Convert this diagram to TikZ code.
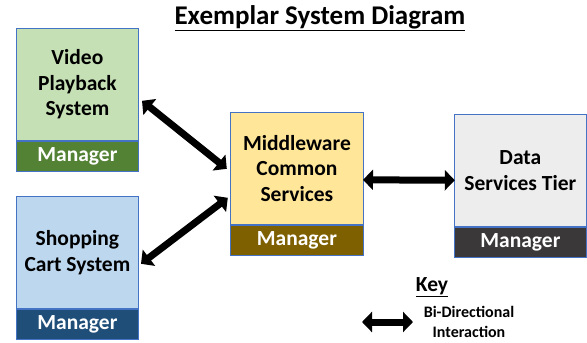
\documentclass[tikz,border=0pt]{standalone}
\usepackage{fontspec}
\setmainfont{Carlito}
\usetikzlibrary{arrows.meta,positioning,fit,calc}
\definecolor{vidbody}{HTML}{C5E0B4}
\definecolor{vidman}{HTML}{548235}
\definecolor{shopbody}{HTML}{BDD7EE}
\definecolor{shopman}{HTML}{1F4E79}
\definecolor{mwbody}{HTML}{FFE699}
\definecolor{mwman}{HTML}{7F6000}
\definecolor{databody}{HTML}{EDEDED}
\definecolor{dataman}{HTML}{3A3838}
\definecolor{edgeblue}{HTML}{4472C4}
\tikzset{
  body/.style={draw=edgeblue, line width=0.8pt, minimum width=122pt, minimum height=112pt, inner sep=0pt, anchor=north west},
  manband/.style={draw=edgeblue, line width=0.8pt, minimum width=122pt, minimum height=30pt, inner sep=0pt, anchor=north, text=white, font=\bfseries\fontsize{21.5}{25}\selectfont},
  boxtext/.style={align=center, font=\bfseries\fontsize{21.5}{25.5}\selectfont},
  biarrow/.style={line width=7pt, {Triangle[length=10pt,width=20pt]}-{Triangle[length=10pt,width=20pt]}}
}
\begin{document}
\begin{tikzpicture}[x=1pt,y=-1pt]
\useasboundingbox (0,0) rectangle (587,343);
\node[font=\bfseries\fontsize{27}{32}\selectfont] (title) at (320,18) {\underline{Exemplar System Diagram}};

% Video
\node[body, fill=vidbody, boxtext] (vidb) at (16,28) {Video\\Playback\\System};
\node[manband, fill=vidman] (vidm) at (vidb.south) {Manager};
\node[fit=(vidb)(vidm), inner sep=0pt] (vid) {};

% Shopping
\node[body, fill=shopbody, boxtext] (shopb) at (16,196) {Shopping\\Cart System};
\node[manband, fill=shopman] (shopm) at (shopb.south) {Manager};
\node[fit=(shopb)(shopm), inner sep=0pt] (shop) {};

% Middleware
\node[body, fill=mwbody, boxtext, minimum width=133pt] (mwb) at (230,112) {Middleware\\Common\\Services};
\node[manband, fill=mwman, minimum width=133pt] (mwm) at (mwb.south) {Manager};
\node[fit=(mwb)(mwm), inner sep=0pt] (mw) {};

% Data
\node[body, fill=databody, boxtext, minimum width=132pt] (datab) at (454,114) {Data\\Services Tier};
\node[manband, fill=dataman, minimum width=132pt] (datam) at (datab.south) {Manager};
\node[fit=(datab)(datam), inner sep=0pt] (data) {};

% Arrows
\coordinate (mwin1) at ($(mw.west)+(-3,-15)$);
\coordinate (mwin2) at ($(mw.west)+(-2,14)$);
\draw[biarrow] ($(vid.east)+(3,1)$) -- (mwin1);
\draw[biarrow] ($(shop.east)+(2,-4)$) -- (mwin2);
\draw[biarrow] ($(mw.east)+(-1,-4)$) -- ($(data.west)+(1,-5.5)$);

% Key
\node[font=\bfseries\fontsize{21.5}{25}\selectfont] (key) at (432,287) {\underline{Key}};
\coordinate (k1) at (362,322);
\coordinate (k2) at (413,322);
\draw[line width=7pt, {Triangle[length=10pt,width=20pt]}-{Triangle[length=10pt,width=20pt]}] (k1) -- (k2);
\node[align=center, font=\bfseries\fontsize{16}{20}\selectfont] (keytext) at (469,322) {Bi-Directional\\Interaction};
\end{tikzpicture}
\end{document}
